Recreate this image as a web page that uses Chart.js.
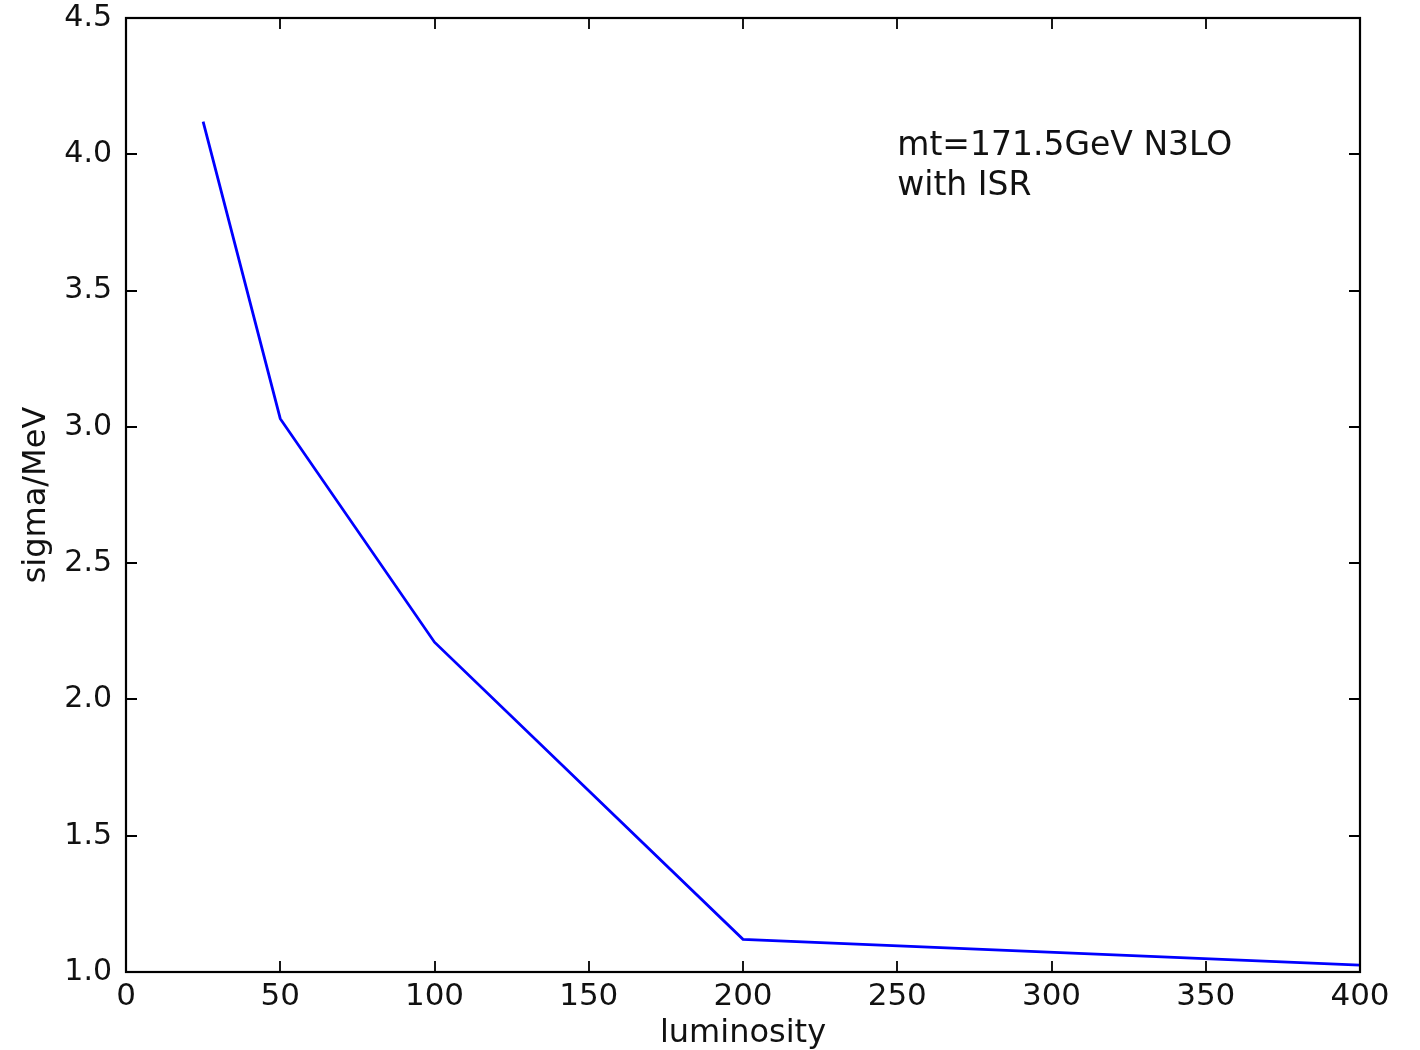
<!DOCTYPE html>
<html lang="en">
<head>
<meta charset="UTF-8">
<title>sigma vs luminosity</title>
<script src="https://cdn.jsdelivr.net/npm/chart.js"></script>
<style>
  html, body { margin: 0; padding: 0; background: #fff; }
  #wrap { width: 1420px; height: 1050px; position: relative; }
</style>
</head>
<body>
<div id="wrap"><canvas id="grafico"></canvas></div>
<script>
    // data
    const luminosity = [25, 50, 100, 200, 400];
    const sigma = [4.12, 3.03, 2.21, 1.12, 1.025];
    const xTicks = [0, 50, 100, 150, 200, 250, 300, 350, 400];
    const yTicks = [1.0, 1.5, 2.0, 2.5, 3.0, 3.5, 4.0, 4.5];
    const note = ['mt=171.5GeV N3LO', 'with ISR'];

    const fonte = 'DejaVu Sans';
    const corTexto = '#111';

    // box + inward ticks on all four sides + the text note
    const moldura = {
        id: 'moldura',
        afterDraw(chart) {
            const ctx = chart.ctx;
            const a = chart.chartArea;
            const sx = chart.scales.x, sy = chart.scales.y;
            const len = 11;
            ctx.save();
            ctx.strokeStyle = '#000';
            ctx.lineWidth = 1.8;
            ctx.beginPath();
            xTicks.forEach(function (v) {
                const px = Math.round(sx.getPixelForValue(v));
                ctx.moveTo(px, a.bottom); ctx.lineTo(px, a.bottom - len);
                ctx.moveTo(px, a.top); ctx.lineTo(px, a.top + len);
            });
            yTicks.forEach(function (v) {
                const py = Math.round(sy.getPixelForValue(v));
                ctx.moveTo(a.left, py); ctx.lineTo(a.left + len, py);
                ctx.moveTo(a.right, py); ctx.lineTo(a.right - len, py);
            });
            ctx.stroke();
            ctx.lineWidth = 2.2;
            ctx.strokeRect(a.left, a.top, a.right - a.left, a.bottom - a.top);

            ctx.fillStyle = corTexto;
            ctx.font = '33px "' + fonte + '"';
            ctx.textAlign = 'left';
            ctx.textBaseline = 'alphabetic';
            const tx = sx.getPixelForValue(250);
            ctx.fillText(note[0], tx, sy.getPixelForValue(3.997));
            ctx.fillText(note[1], tx, sy.getPixelForValue(3.851));
            ctx.restore();
        }
    };

    const ctx = document.getElementById('grafico').getContext('2d');
    new Chart(ctx, {
        type: 'line',
        data: {
            datasets: [{
                label: 'sigma',
                data: luminosity.map(function (x, i) { return { x: x, y: sigma[i] }; }),
                borderColor: '#0000ff',
                borderWidth: 2.8,
                pointRadius: 0,
                tension: 0,
                fill: false
            }]
        },
        options: {
            responsive: true,
            maintainAspectRatio: false,
            animation: false,
            layout: { padding: { top: 18, right: 60, left: 0, bottom: 0 } },
            plugins: {
                legend: { display: false },
                tooltip: { enabled: false }
            },
            scales: {
                x: {
                    type: 'linear',
                    min: 0, max: 400,
                    afterFit: function (s) { s.height = 78; s.paddingLeft = 0; s.paddingRight = 0; },
                    afterBuildTicks: function (s) { s.ticks = xTicks.map(function (v) { return { value: v }; }); },
                    grid: { display: false, drawTicks: false },
                    border: { display: false },
                    ticks: {
                        padding: 6,
                        color: corTexto,
                        font: { family: fonte, size: 31 },
                        maxRotation: 0,
                        autoSkip: false
                    },
                    title: {
                        display: true,
                        text: 'luminosity',
                        color: corTexto,
                        font: { family: fonte, size: 32, lineHeight: 1.0 },
                        padding: { top: 0, bottom: 0 }
                    }
                },
                y: {
                    type: 'linear',
                    min: 1.0, max: 4.5,
                    afterFit: function (s) { s.width = 126; s.paddingTop = 0; s.paddingBottom = 0; },
                    afterBuildTicks: function (s) { s.ticks = yTicks.map(function (v) { return { value: v }; }); },
                    grid: { display: false, drawTicks: false },
                    border: { display: false },
                    ticks: {
                        padding: 14,
                        color: corTexto,
                        font: { family: fonte, size: 30 },
                        autoSkip: false,
                        callback: function (v) { return Number(v).toFixed(1); }
                    },
                    title: {
                        display: true,
                        text: 'sigma/MeV',
                        color: corTexto,
                        font: { family: fonte, size: 32 },
                        padding: { top: 17, bottom: 0 }
                    }
                }
            }
        },
        plugins: [moldura]
    });
</script>
</body>
</html>
